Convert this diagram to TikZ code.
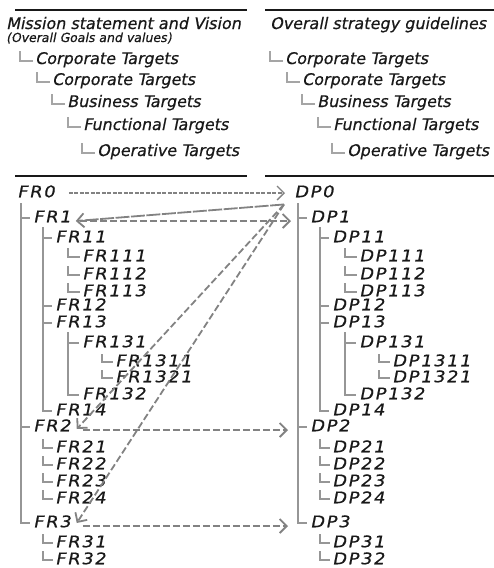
\documentclass[tikz,border=0pt]{standalone}
\usepackage{fontspec}
\usetikzlibrary{arrows.meta}
\newfontfamily\hfont{DejaVu Sans}[FakeSlant=0.2,FakeBold=0.6]
\newfontfamily\lfont{DejaVu Sans}[FakeSlant=0.2,FakeStretch=1.12,LetterSpace=10,FakeBold=0.7]
\definecolor{ink}{RGB}{25,25,25}
\definecolor{treegray}{RGB}{150,150,150}
\definecolor{arrgray}{RGB}{130,130,130}
\definecolor{lgray}{RGB}{165,165,165}
\begin{document}
\begin{tikzpicture}[x=1pt,y=-1pt,
 lbl/.style={anchor=west,inner sep=0pt,text=ink,font=\lfont\fontsize{16}{16}\selectfont,text height=11.5pt,text depth=3pt},
 head/.style={anchor=west,inner sep=0pt,text=ink,font=\hfont\fontsize{16}{16}\selectfont,text height=12pt,text depth=4pt},
 small/.style={head,font=\hfont\fontsize{12.5}{12.5}\selectfont,text height=9pt,text depth=3pt},
 tree/.style={draw=treegray,line width=1.9pt},
 hmark/.style={draw=lgray,line width=1.7pt},
 rule/.style={draw=ink,line width=2.6pt},
 flow/.style={draw=arrgray,line width=1.8pt,dash pattern=on 7pt off 3pt,-{Straight Barb[length=7pt,width=14pt]}},
 fine/.style={line width=1.3pt,dash pattern=on 4pt off 1.5pt},
 longdash/.style={dash pattern=on 14pt off 1.5pt},
]
\useasboundingbox (0,0) rectangle (494,568);
% rules
\draw[rule] (15,10) -- (247,10);
\draw[rule] (265,10) -- (494,10);
\draw[rule] (15,176) -- (247,176);
\draw[rule] (265,176) -- (494,176);
% headers
\node[head] (ms) at (6,25) {Mission statement and Vision};
\node[small] (og) at (6,39) {(Overall Goals and values)};
\node[head] (os) at (270,25) {Overall strategy guidelines};
\node[head] (l1) at (35,60) {Corporate Targets};
\node[head] (l2) at (52,81) {Corporate Targets};
\node[head] (l3) at (67,103) {Business Targets};
\node[head] (l4) at (83,126) {Functional Targets};
\node[head] (l5) at (97,152) {Operative Targets};
\node[head] (r1) at (285,60) {Corporate Targets};
\node[head] (r2) at (302,81) {Corporate Targets};
\node[head] (r3) at (317,103) {Business Targets};
\node[head] (r4) at (333,126) {Functional Targets};
\node[head] (r5) at (347,152) {Operative Targets};
\foreach \n in {l1,l2,l3,l4,l5,r1,r2,r3,r4,r5}
  \draw[hmark] ([shift={(-15pt,9pt)}]\n.west) |- ([shift={(-2pt,-1pt)}]\n.west);
% FR / DP labels
\foreach \k/\x/\y in {0/17/193,1/33/218,11/55/238,111/82/257,112/82/275,113/82/292,
  12/55/306,13/55/323,131/82/343,1311/115/362,1321/115/378,132/82/395,14/55/411,
  2/33/427,21/55/448,22/55/465,23/55/482,24/55/499,3/33/523,31/55/543,32/55/560}{
  \node[lbl] (fr\k) at (\x,\y) {FR\k};
  \node[lbl] (dp\k) at (\x+277,\y) {DP\k};
}
% trees
\foreach \s in {fr,dp}{
  \foreach \c in {1,2,3}
    \draw[tree] ([shift={(4pt,-3pt)}]\s0.south west) |- ([xshift=-3pt]\s\c.west);
  \foreach \c in {11,12,13,14}
    \draw[tree] ([shift={(10pt,-2pt)}]\s1.south west) |- ([xshift=-3pt]\s\c.west);
  \foreach \c in {131,132}
    \draw[tree] ([shift={(13pt,-2pt)}]\s13.south west) |- ([xshift=-3pt]\s\c.west);
  \foreach \c in {111,112,113}
    \draw[tree] ([shift={(-14pt,9pt)}]\s\c.west) |- ([xshift=-2pt]\s\c.west);
  \foreach \c in {1311,1321}
    \draw[tree] ([shift={(-13pt,8pt)}]\s\c.west) |- ([xshift=-2pt]\s\c.west);
  \foreach \c in {21,22,23,24,31,32}
    \draw[tree] ([shift={(-12pt,9pt)}]\s\c.west) |- ([xshift=-2pt]\s\c.west);
}
% zigzag arrows
\coordinate (z) at ([shift={(-10pt,-4pt)}]dp0.south west);
\draw[flow,fine,shorten <=14pt,shorten >=9pt] (fr0.east) -- (dp0.west);
\draw[flow,longdash] (z) -- ([shift={(5pt,-3pt)}]fr1.east);
\draw[flow,shorten <=9pt,shorten >=19pt] ([yshift=-3pt]fr1.east) -- ([yshift=-3pt]dp1.west);
\draw[flow] (z) -- ([shift={(6pt,-2pt)}]fr2.east);
\draw[flow] (z) -- ([shift={(6pt,0pt)}]fr3.east);
\draw[flow,shorten <=12pt,shorten >=22pt] ([yshift=-3pt]fr2.east) -- ([yshift=-3pt]dp2.west);
\draw[flow,shorten <=12pt,shorten >=22pt] ([yshift=-3pt]fr3.east) -- ([yshift=-3pt]dp3.west);
\end{tikzpicture}
\end{document}
